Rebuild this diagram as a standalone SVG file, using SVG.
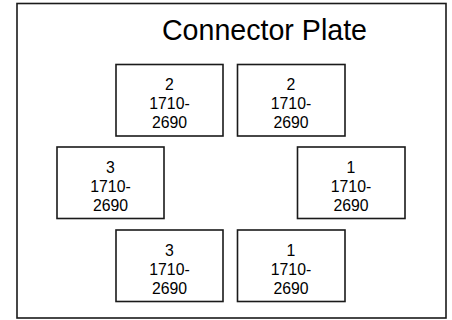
<svg xmlns="http://www.w3.org/2000/svg" width="452" height="320" viewBox="0 0 452 320">
<style>
.box{fill:#fff;stroke:#1a1a1a;stroke-width:1.6}
.t{font-family:"Liberation Sans",Arial,sans-serif;font-size:15.8px;fill:#000;text-anchor:middle}
.title{font-family:"Liberation Sans",Arial,sans-serif;font-size:28.6px;fill:#000;text-anchor:middle}
</style>
<rect width="452" height="320" fill="#fff"/>
<g id="plate">
<rect class="box" x="17" y="3.5" width="429" height="314.5"/>
<text class="title" x="264.5" y="40">Connector Plate</text>
</g>
<g id="n-top-left">
<rect class="box" x="116" y="64.5" width="107" height="71.5"/>
<text class="t" x="169.5" y="90">2</text><text class="t" x="169.5" y="109">1710-</text><text class="t" x="169.5" y="128">2690</text>
</g>
<g id="n-top-right">
<rect class="box" x="237.5" y="64.5" width="107.5" height="71.5"/>
<text class="t" x="291" y="90">2</text><text class="t" x="291" y="109">1710-</text><text class="t" x="291" y="128">2690</text>
</g>
<g id="n-mid-left">
<rect class="box" x="57" y="147" width="107" height="71.5"/>
<text class="t" x="110.5" y="173">3</text><text class="t" x="110.5" y="192">1710-</text><text class="t" x="110.5" y="211">2690</text>
</g>
<g id="n-mid-right">
<rect class="box" x="297.5" y="147" width="107.5" height="71.5"/>
<text class="t" x="351" y="173">1</text><text class="t" x="351" y="192">1710-</text><text class="t" x="351" y="211">2690</text>
</g>
<g id="n-bot-left">
<rect class="box" x="116" y="230" width="107" height="71.5"/>
<text class="t" x="169.5" y="256">3</text><text class="t" x="169.5" y="275">1710-</text><text class="t" x="169.5" y="294">2690</text>
</g>
<g id="n-bot-right">
<rect class="box" x="237.5" y="230" width="107.5" height="71.5"/>
<text class="t" x="291" y="256">1</text><text class="t" x="291" y="275">1710-</text><text class="t" x="291" y="294">2690</text>
</g>
<g id="connectors"></g>
</svg>
